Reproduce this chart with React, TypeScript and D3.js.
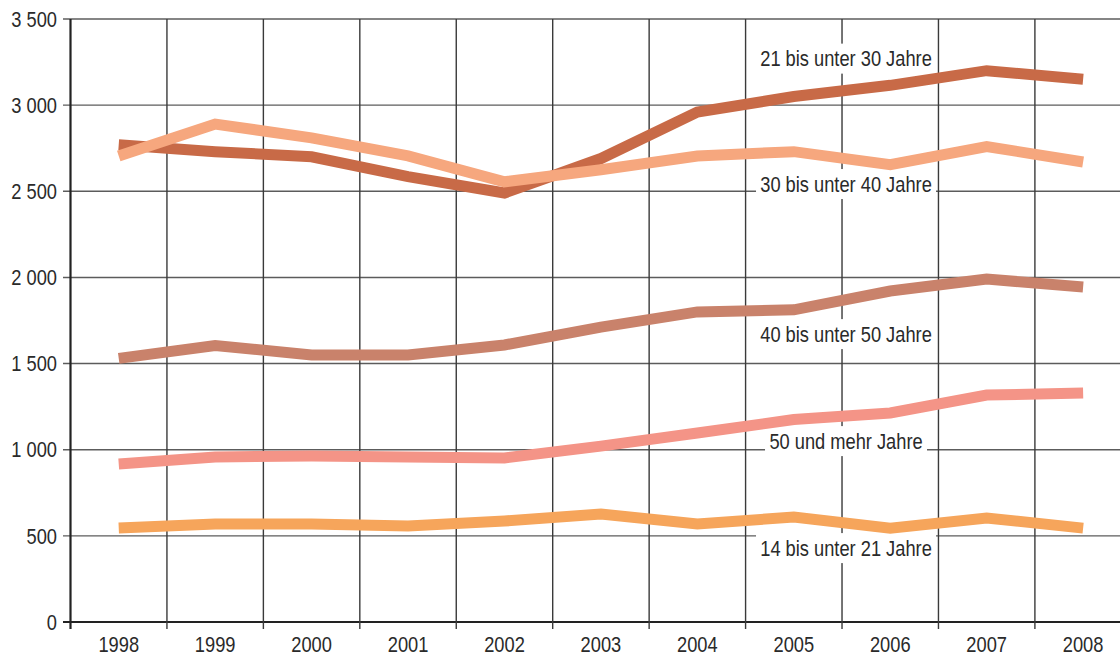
import React from "react";
import * as d3 from "d3";

const years = ["1998", "1999", "2000", "2001", "2002", "2003", "2004", "2005", "2006", "2007", "2008"];
const yTicks = [0, 500, 1000, 1500, 2000, 2500, 3000, 3500];

const age21to30 = [2770, 2730, 2700, 2585, 2490, 2690, 2960, 3050, 3115, 3200, 3150];
const age30to40 = [2705, 2890, 2810, 2705, 2555, 2625, 2705, 2730, 2655, 2760, 2670];
const age40to50 = [1530, 1605, 1550, 1550, 1608, 1712, 1800, 1812, 1921, 1991, 1944];
const age50plus = [917, 958, 963, 958, 952, 1021, 1097, 1175, 1213, 1317, 1329];
const age14to21 = [545, 569, 569, 557, 586, 627, 569, 609, 545, 604, 545];

const seriesNames = [
  "21 bis unter 30 Jahre",
  "30 bis unter 40 Jahre",
  "40 bis unter 50 Jahre",
  "50 und mehr Jahre",
  "14 bis unter 21 Jahre",
];
const seriesColors = ["#C86A47", "#F6A77E", "#C9826B", "#F49487", "#F6A55B"];
const seriesValues = [age21to30, age30to40, age40to50, age50plus, age14to21];
// label anchor (value at vertical centre of the label), placed at the 2005/2006 boundary
const labelValues = [3270, 2542, 1671, 1050, 429];

const W = 1120;
const H = 655;
const FONT = "'Liberation Sans', Arial, sans-serif";
const FS = 21.5;
const SX = 0.85;

function CText({ x, y, anchor, children }: { x: number; y: number; anchor: "start" | "middle" | "end"; children: React.ReactNode }) {
  return (
    <text transform={`translate(${x},${y}) scale(${SX},1)`} x={0} y={0} textAnchor={anchor} fontSize={FS} fill="#2a2a2a">
      {children}
    </text>
  );
}

export default function App() {
  const x = d3.scaleBand<string>().domain(years).range([70.5, 70.5 + 96.44 * 11]).paddingInner(0).paddingOuter(0);
  const y = d3.scaleLinear().domain([0, 3500]).range([622, 19]);
  const fmt = d3.formatLocale({ decimal: ",", thousands: " ", grouping: [3], currency: ["", "€"] }).format(",d");
  const cx = (yr: string) => (x(yr) as number) + x.bandwidth() / 2;
  const line = d3
    .line<number>()
    .x((_, i) => cx(years[i]))
    .y((v) => y(v));

  const labelX = (x("2006") as number) + 4;

  return (
    <svg width={W} height={H} style={{ position: "absolute", left: 0, top: 0, background: "#fff" }} fontFamily={FONT}>
      {/* horizontal gridlines */}
      {yTicks.map((t) => (
        <line key={"h" + t} x1={63} x2={W} y1={y(t)} y2={y(t)} stroke={t === 0 ? "#222" : "#5c5c5c"} strokeWidth={t === 0 ? 2.2 : 1.4} />
      ))}
      {/* vertical gridlines */}
      {years.map((yr, i) =>
        i === 0 ? null : (
          <line key={"v" + yr} x1={x(yr) as number} x2={x(yr) as number} y1={y(3500)} y2={629} stroke="#3a3a3a" strokeWidth={1.4} />
        )
      )}
      {/* y axis line */}
      <line x1={70.5} x2={70.5} y1={y(3500)} y2={629} stroke="#222" strokeWidth={2.2} />
      {/* y tick labels */}
      {yTicks.map((t) => (
        <CText key={"yl" + t} x={57} y={y(t) + 7.7} anchor="end">
          {fmt(t)}
        </CText>
      ))}
      {/* x tick labels */}
      {years.map((yr) => (
        <CText key={"xl" + yr} x={cx(yr)} y={652} anchor="middle">
          {yr}
        </CText>
      ))}
      {/* series labels with white boxes */}
      {seriesNames.map((name, i) => {
        const yc = y(labelValues[i]);
        const isShort = i === 3;
        const w = isShort ? 162 : 180;
        return (
          <g key={"lab" + i}>
            <rect x={labelX - w / 2} y={yc - 15} width={w} height={30} fill="#fff" />
            <CText x={labelX} y={yc + 7.7} anchor="middle">
              {name}
            </CText>
          </g>
        );
      })}
      {/* lines */}
      {seriesValues.map((vals, i) => (
        <path key={"s" + i} d={line(vals) as string} fill="none" stroke={seriesColors[i]} strokeWidth={11} strokeLinejoin="miter" strokeLinecap="butt" />
      ))}
    </svg>
  );
}
